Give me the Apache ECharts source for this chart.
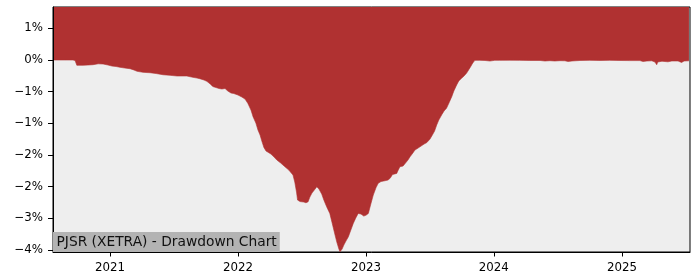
<!DOCTYPE html>
<html><head><meta charset="utf-8">
<script src="https://cdn.jsdelivr.net/npm/echarts@6/dist/echarts.min.js"></script>
<style>html,body{margin:0;padding:0;background:#fff}#c{width:700px;height:280px}</style>
</head><body><div id="c"></div>
<script>
const dates = [
'2020-07-22','2020-08-11','2020-08-28','2020-09-17','2020-09-23','2020-09-28','2020-10-16','2020-10-30','2020-11-13','2020-11-28',
'2020-12-12','2020-12-26','2021-01-06','2021-01-18','2021-01-29','2021-02-12','2021-02-27','2021-03-10','2021-03-19','2021-04-05',
'2021-04-25','2021-05-12','2021-06-01','2021-06-21','2021-07-11','2021-07-28','2021-08-08','2021-08-25','2021-09-06','2021-09-14',
'2021-09-26','2021-10-04','2021-10-13','2021-10-21','2021-10-30','2021-11-08','2021-11-16','2021-11-25','2021-12-03','2021-12-12',
'2021-12-20','2022-01-01','2022-01-12','2022-01-21','2022-01-29','2022-02-07','2022-02-13','2022-02-21','2022-02-27','2022-03-05',
'2022-03-10','2022-03-16','2022-03-22','2022-03-27','2022-04-05','2022-04-14','2022-04-22','2022-05-03','2022-05-15','2022-05-26',
'2022-06-07','2022-06-12','2022-06-17','2022-06-20','2022-06-27','2022-07-02','2022-07-08','2022-07-14','2022-07-20','2022-07-25',
'2022-07-31','2022-08-09','2022-08-14','2022-08-20','2022-08-28','2022-09-03','2022-09-11','2022-09-20','2022-09-26','2022-10-05',
'2022-10-10','2022-10-16','2022-10-19','2022-10-25','2022-10-30','2022-11-05','2022-11-12','2022-11-19','2022-11-26','2022-12-03',
'2022-12-10','2022-12-18','2022-12-26','2023-01-02','2023-01-08','2023-01-15','2023-01-22','2023-01-30','2023-02-05','2023-02-13',
'2023-02-24','2023-03-05','2023-03-11','2023-03-18','2023-03-22','2023-03-30','2023-04-02','2023-04-08','2023-04-17','2023-04-22',
'2023-05-01','2023-05-07','2023-05-15','2023-05-21','2023-05-30','2023-06-04','2023-06-16','2023-06-24','2023-07-03','2023-07-08',
'2023-07-16','2023-07-22','2023-07-28','2023-08-05','2023-08-12','2023-08-19','2023-08-26','2023-09-03','2023-09-09','2023-09-17',
'2023-09-23','2023-10-01','2023-10-08','2023-10-15','2023-10-22','2023-10-28','2023-11-02','2023-11-08','2023-11-22','2023-12-07',
'2023-12-21','2024-01-04','2024-01-18','2024-02-16','2024-03-15','2024-04-13','2024-05-12','2024-05-26','2024-06-09','2024-06-23',
'2024-07-08','2024-07-22','2024-07-31','2024-08-05','2024-08-11','2024-09-03','2024-10-01','2024-10-30','2024-11-27','2024-12-26',
'2025-01-23','2025-02-21','2025-03-02','2025-03-07','2025-03-13','2025-03-27','2025-04-05','2025-04-10','2025-04-13','2025-04-25',
'2025-05-12','2025-05-23','2025-06-10','2025-06-20','2025-06-27','2025-07-11'
];
const drawdown = [
0,0,0,0,-0.01,-0.10,-0.10,-0.095,-0.089,-0.072,
-0.076,-0.095,-0.114,-0.123,-0.138,-0.152,-0.165,-0.189,-0.214,-0.233,
-0.241,-0.256,-0.279,-0.290,-0.303,-0.303,-0.303,-0.328,-0.341,-0.354,
-0.379,-0.404,-0.449,-0.502,-0.521,-0.540,-0.549,-0.540,-0.587,-0.625,
-0.635,-0.663,-0.701,-0.739,-0.820,-0.947,-1.074,-1.194,-1.326,-1.421,
-1.535,-1.658,-1.724,-1.753,-1.781,-1.838,-1.895,-1.952,-2.022,-2.084,
-2.179,-2.311,-2.501,-2.652,-2.681,-2.704,-2.690,-2.704,-2.685,-2.596,
-2.520,-2.444,-2.401,-2.444,-2.539,-2.652,-2.779,-2.905,-3.069,-3.315,
-3.448,-3.581,-3.632,-3.581,-3.505,-3.429,-3.348,-3.221,-3.094,-2.994,
-2.905,-2.918,-2.956,-2.937,-2.905,-2.728,-2.558,-2.416,-2.336,-2.302,
-2.287,-2.274,-2.241,-2.169,-2.150,-2.147,-2.103,-2.022,-2.008,-1.989,
-1.895,-1.832,-1.762,-1.705,-1.667,-1.643,-1.592,-1.563,-1.497,-1.440,
-1.345,-1.232,-1.137,-1.042,-0.966,-0.915,-0.815,-0.695,-0.587,-0.474,
-0.398,-0.347,-0.303,-0.252,-0.180,-0.114,-0.057,-0.006,-0.006,-0.009,
-0.019,-0.006,-0.006,-0.004,-0.006,-0.009,-0.009,-0.019,-0.013,-0.019,
-0.013,-0.015,-0.028,-0.063,-0.019,-0.009,-0.006,-0.009,-0.006,-0.009,
-0.011,-0.011,-0.028,-0.051,-0.019,-0.015,-0.038,-0.089,-0.038,-0.023,
-0.034,-0.019,-0.019,-0.047,-0.019,-0.015
];
const yTickValues = [0.6, 0, -0.6, -1.2, -1.8, -2.4, -3.0, -3.6];
const yTickLabels = ['1%', '0%', '\u22121%', '\u22121%', '\u22122%', '\u22122%', '\u22123%', '\u22124%'];
const xTickDates = ['2021-01-01', '2022-01-01', '2023-01-01', '2024-01-01', '2025-01-01'];
const xTickLabels = ['2021', '2022', '2023', '2024', '2025'];
const chartTitle = 'PJSR (XETRA) - Drawdown Chart';

const toTime = d => new Date(d + 'T00:00:00').getTime();
const xTickTimes = xTickDates.map(toTime);
const seriesData = dates.map((d, i) => [toTime(d), drawdown[i]]);
const RED = '#b03131';
const FONT = 'DejaVu Sans';

const chart = echarts.init(document.getElementById('c'), null, {renderer: 'canvas'});
chart.setOption({
  animation: false,
  backgroundColor: '#ffffff',
  grid: {left: 53, right: 10, top: 7, bottom: 28, show: true, backgroundColor: '#eeeeee', borderColor: '#000', borderWidth: 1, containLabel: false},
  xAxis: [{
    type: 'value',
    min: toTime('2020-07-22'),
    max: toTime('2025-07-14'),
    z: 10,
    axisLine: {show: true, onZero: false, lineStyle: {color: '#000', width: 1}},
    axisTick: {show: true, length: 4.5, lineStyle: {color: '#000'}, customValues: xTickTimes},
    axisLabel: {
      customValues: xTickTimes,
      margin: 9,
      padding: [1, 0, 0, 0],
      fontFamily: FONT, fontSize: 11.8, color: '#000',
      formatter: v => { const i = xTickTimes.findIndex(t => Math.abs(t - v) < 864e5); return i >= 0 ? xTickLabels[i] : ''; }
    },
    splitLine: {show: false}
  }],
  yAxis: [{
    type: 'value',
    min: -3.636,
    max: 1.004,
    z: 10,
    axisLine: {show: true, onZero: false, lineStyle: {color: '#000', width: 1}},
    axisTick: {show: true, length: 5, lineStyle: {color: '#000'}, customValues: yTickValues},
    axisLabel: {
      customValues: yTickValues,
      margin: 10,
      padding: [2, 0, 0, 0],
      fontFamily: FONT, fontSize: 11.8, color: '#000',
      formatter: v => { const i = yTickValues.findIndex(t => Math.abs(t - v) < 1e-6); return i >= 0 ? yTickLabels[i] : ''; }
    },
    splitLine: {show: false}
  }],
  series: [{
    type: 'line',
    data: seriesData,
    symbol: 'none',
    showSymbol: false,
    lineStyle: {width: 0.6, color: RED},
    areaStyle: {origin: 'end', color: RED, opacity: 1},
    z: 2
  }],
  graphic: [{
    type: 'text',
    left: 53,
    top: 232,
    z: 100,
    style: {
      text: chartTitle,
      fontFamily: FONT,
      fontSize: 13.8,
      lineHeight: 16,
      fill: '#111',
      backgroundColor: '#b3b3b3',
      padding: [2, 3, 2, 3.5]
    }
  }]
});
</script>
</body></html>
